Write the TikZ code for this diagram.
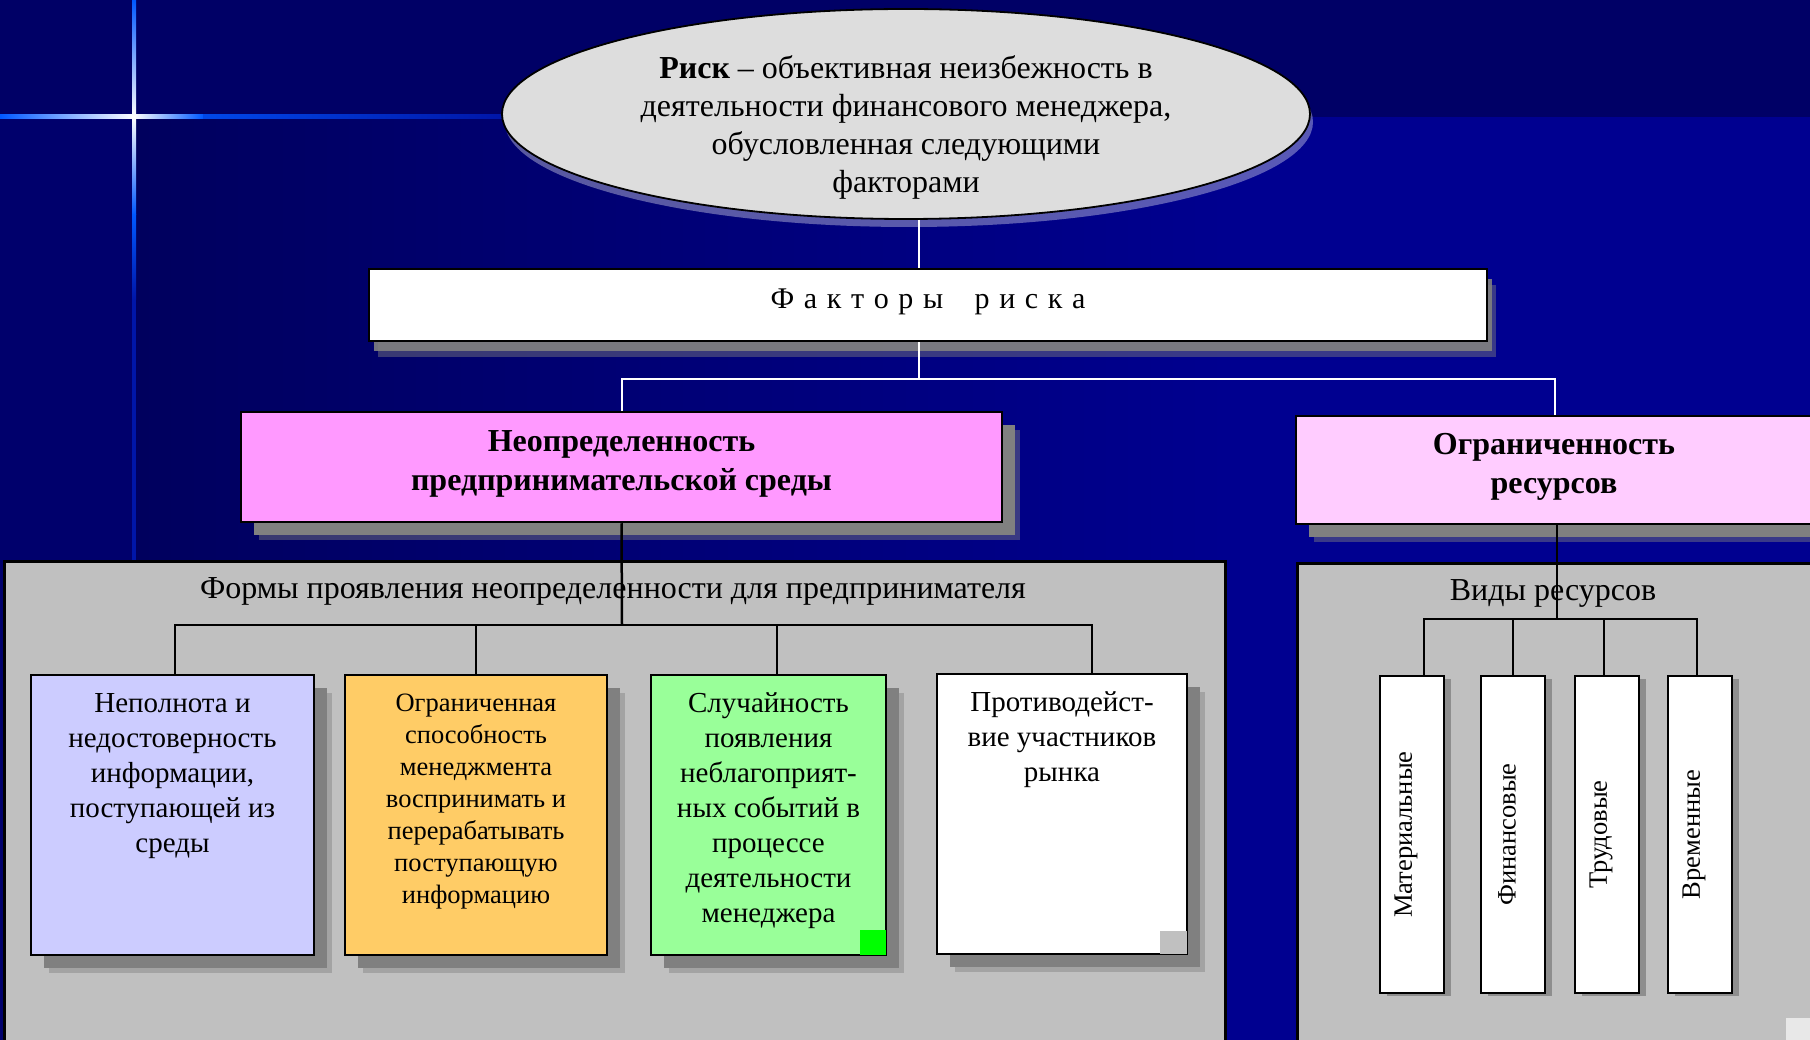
\documentclass[tikz,border=0pt]{standalone}
\usepackage{fontspec}
\setmainfont{Liberation Serif}
\usepackage{tikz}
\usetikzlibrary{shapes,positioning,shadows}

\definecolor{navyTop}{HTML}{000066}
\definecolor{navyStrip}{HTML}{00006C}
\definecolor{navyLow}{HTML}{000090}
\definecolor{starBright}{HTML}{0058FF}
\definecolor{starDim}{HTML}{0016A8}
\definecolor{ellGray}{HTML}{DDDDDD}
\definecolor{pinkDeep}{HTML}{FF99FF}
\definecolor{pinkPale}{HTML}{FFCCFF}
\definecolor{panelGray}{HTML}{C0C0C0}
\definecolor{cardBlue}{HTML}{CCCCFF}
\definecolor{cardOrange}{HTML}{FFCC66}
\definecolor{cardGreen}{HTML}{99FF99}
\definecolor{markGreen}{HTML}{00FF00}
\definecolor{cornerGray}{HTML}{E8E8E8}

\newcommand{\ellfont}{\fontsize{32}{38}\selectfont}
\newcommand{\headfont}{\bfseries\fontsize{32}{39}\selectfont}
\newcommand{\cardfont}{\fontsize{29}{35}\selectfont}
\newcommand{\smallcardfont}{\fontsize{26.5}{32}\selectfont}
\newcommand{\slimfont}{\fontsize{26.5}{30}\selectfont}
\newcommand{\lsp}{\hspace{.32em}} % letter spacing of the title bar

\tikzset{
box/.style={draw=black, line width=2.5pt, inner sep=0pt}, % every framed box
txt/.style={align=center, inner sep=0pt},
wline/.style={draw=white, line width=2pt}, % connectors on the blue
bline/.style={draw=black, line width=2.5pt}, % connectors on the gray
cardshadow/.style={drop shadow={shadow xshift=18pt, shadow yshift=-18pt, fill=gray, opacity=.45},
                   drop shadow={shadow xshift=13pt, shadow yshift=-13pt, fill=gray, opacity=1}},
facshadow/.style={drop shadow={shadow xshift=9pt, shadow yshift=-16pt, fill=gray, opacity=.45},
                  drop shadow={shadow xshift=5pt, shadow yshift=-10pt, fill=gray, opacity=.9}},
slimshadow/.style={drop shadow={shadow xshift=7pt, shadow yshift=-3pt, fill=black!60, opacity=.55}},
glow/.style={drop shadow={shadow xshift=3pt, shadow yshift=-8pt, fill=white, opacity=.35}}
}

\begin{document}
\begin{tikzpicture}[x=1pt, y=1pt]
    \useasboundingbox (0,0) rectangle (1810,-1040);
    % slide background
    \fill[navyTop] (0,0) rectangle (1810,-1040);
    \fill[navyStrip] (0,-117) rectangle (134,-1040);
    \shade[left color=navyTop!92!black, right color=navyLow] (134,-117) rectangle (1250,-1040);
    \fill[navyLow] (1250,-117) rectangle (1810,-1040);
    % the star
    \shade[left color=starBright, right color=white] (0,-119) rectangle (134,-115);
    \shade[left color=white, right color=starBright] (134,-119) rectangle (203,-115);
    \shade[left color=starBright!75!starDim, right color=starDim] (203,-119) rectangle (502,-115);
    \shade[top color=starBright, bottom color=white] (132,0) rectangle (136,-117);
    \shade[top color=white, bottom color=starBright] (132,-117) rectangle (136,-215);
    \shade[top color=starBright, bottom color=starDim] (132,-215) rectangle (136,-300);
    \fill[starDim] (132,-300) rectangle (136,-560);

    % top of the tree
    \node[ellipse, draw=black, line width=1.8pt, fill=ellGray, minimum width=808pt, minimum height=210pt, inner sep=0pt, glow] (risk) at (906,-114) {};
    \node[txt, font=\ellfont] (riskT) at (906,-127.5) {\textbf{Риск} – объективная неизбежность в\\деятельности финансового менеджера,\\обусловленная следующими\\факторами};
    \node[box, fill=white, minimum width=1118pt, minimum height=72pt, facshadow] (fac) at (928,-305) {};
    \node[txt, font=\fontsize{30}{36}\selectfont] (facT) at (928,-301.5) {Ф\lsp а\lsp к\lsp т\lsp о\lsp р\lsp ы\hspace{1.05em}р\lsp и\lsp с\lsp к\lsp а};

    \coordinate (busTop) at (919,-379);
    \draw[wline] (risk.south -| busTop) -- (fac.north -| busTop);
    \draw[wline] (fac.south -| busTop) -- (busTop);
    \draw[wline] (621.5,-412) |- (busTop) -| (1554.5,-416);

    \node[box, fill=pinkDeep, minimum width=761pt, minimum height=110pt, cardshadow] (neo) at (621.5,-467) {};
    \node[txt, font=\headfont] (neoT) at (621.5,-463.5) {Неопределенность\\предпринимательской среды};
    \node[box, fill=pinkPale, minimum width=517pt, minimum height=108pt, cardshadow] (ogr) at (1554.5,-470) {};
    \node[txt, font=\headfont] (ogrT) at (1554,-466.5) {Ограниченность\\ресурсов};

    % gray panels
    \node[box, fill=panelGray, minimum width=1221pt, minimum height=500pt, anchor=north west] (formsP) at (3,-560) {};
    \node[txt, font=\ellfont] (formsT) at (613,-591) {Формы проявления неопределенности для предпринимателя};
    \node[box, fill=panelGray, minimum width=530pt, minimum height=500pt, anchor=north west] (vidyP) at (1296,-562) {};
    \node[txt, font=\ellfont] (vidyT) at (1553,-593) {Виды ресурсов};

    % left branch
    \node[box, fill=cardBlue, minimum width=283pt, minimum height=280pt, cardshadow] (blue) at (172.5,-815) {};
    \node[box, fill=cardOrange, minimum width=262pt, minimum height=280pt, cardshadow] (orange) at (476,-815) {};
    \node[box, fill=cardGreen, minimum width=235pt, minimum height=280pt, cardshadow] (green) at (768.5,-815) {};
    \node[box, fill=white, minimum width=250pt, minimum height=280pt, cardshadow] (white) at (1062,-814) {};
    \node[fill=markGreen, minimum width=26pt, minimum height=25pt, inner sep=0pt, anchor=south east] (greenMark) at ([xshift=-1.3, yshift=1.3]green.south east) {};
    \node[fill=panelGray, minimum width=27pt, minimum height=23pt, inner sep=0pt, anchor=south east] (whiteMark) at ([xshift=-1.3, yshift=1.3]white.south east) {};

    \node[txt, font=\cardfont, below=19.5pt of blue.north] (blueT) {Неполнота и\\недостоверность\\информации,\\поступающей из\\среды};
    \node[txt, font=\smallcardfont, below=19.5pt of orange.north] (orangeT) {Ограниченная\\способность\\менеджмента\\воспринимать и\\перерабатывать\\поступающую\\информацию};
    \node[txt, font=\cardfont, below=18.5pt of green.north] (greenT) {Случайность\\появления\\неблагоприят-\\ных событий в\\процессе\\деятельности\\менеджера};
    \node[txt, font=\cardfont, below=18.5pt of white.north] (whiteT) {Противодейст-\\вие участников\\рынка};

    \coordinate (busL) at (622,-625);
    \draw[bline] (neo.south) -- (busL);
    \draw[bline] ([xshift=2.5]blue.north) |- (busL) -| ([xshift=30]white.north);
    \draw[bline] (orange.north) -- (orange.north |- busL);
    \draw[bline] ([xshift=8.5]green.north) -- ([xshift=8.5]green.north |- busL);

    % right branch
    \node[box, fill=white, minimum width=64pt, minimum height=317pt, slimshadow] (mat) at (1412,-834.5) {};
    \node[box, fill=white, minimum width=64pt, minimum height=317pt, slimshadow] (fin) at (1513,-834.5) {};
    \node[box, fill=white, minimum width=64pt, minimum height=317pt, slimshadow] (trud) at (1607,-834.5) {};
    \node[box, fill=white, minimum width=64pt, minimum height=317pt, slimshadow] (vrem) at (1700,-834.5) {};
    \node[txt, font=\slimfont, rotate=90] (matT) at ([xshift=-6]mat.center) {Материальные};
    \node[txt, font=\slimfont, rotate=90] (finT) at ([xshift=-6]fin.center) {Финансовые};
    \node[txt, font=\slimfont, rotate=90] (trudT) at ([xshift=-6]trud.center) {Трудовые};
    \node[txt, font=\slimfont, rotate=90] (vremT) at ([xshift=-6]vrem.center) {Временные};

    \coordinate (busR) at (1557,-619);
    \draw[bline] (ogr.south -| busR) -- (busR);
    \draw[bline] ([xshift=12]mat.north) |- (busR) -| ([xshift=-3]vrem.north);
    \draw[bline] (fin.north) -- (fin.north |- busR);
    \draw[bline] ([xshift=-3]trud.north) -- ([xshift=-3]trud.north |- busR);

    \node[fill=cornerGray, minimum width=24pt, minimum height=22pt, inner sep=0pt, anchor=south east] (cornerMark) at (1810,-1040) {};
\end{tikzpicture}
\end{document}
